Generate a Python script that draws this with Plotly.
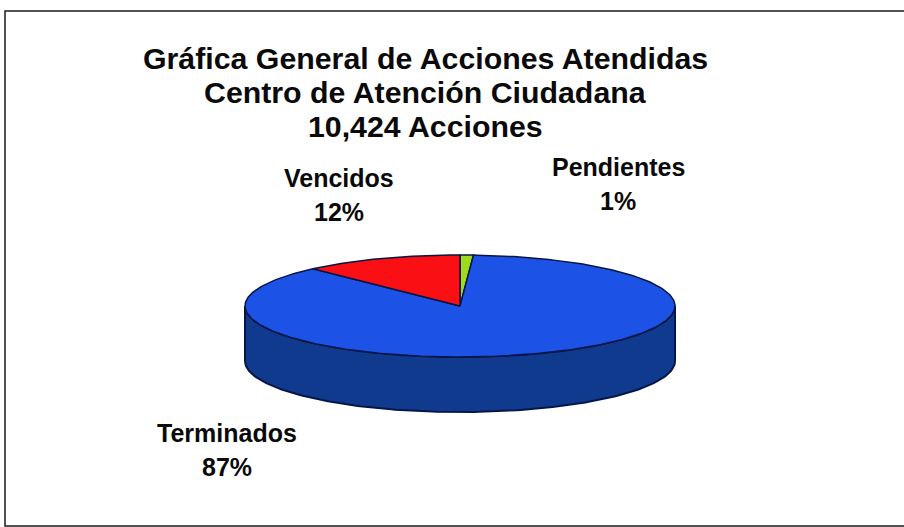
import numpy as np
import plotly.graph_objects as go

# Series
categorias = ["Pendientes", "Terminados", "Vencidos"]
porcentajes = [1, 87, 12]
colores_cara = ["#9CDB1E", "#1C52E6", "#FA0F14"]
colores_lado = ["#5C8A10", "#0F3A8E", "#900A0C"]

titulos = ["Gráfica General de Acciones Atendidas",
           "Centro de Atención Ciudadana",
           "10,424 Acciones"]

# Pie geometry, in page pixels
CX, CY, RX, RY, ALTO = 460, 306, 215, 51, 55
CONTORNO = "#071648"


def borde(t):
    """Point on the top rim for an angle measured clockwise from 12 o'clock."""
    return CX + RX * np.sin(t), CY - RY * np.cos(t)


fig = go.Figure()

# Wall of the cylinder: only the visible lower half, shaded per slice
inicio = 0.0
for pct, lado in zip(porcentajes, colores_lado):
    fin = inicio + pct / sum(porcentajes) * 2 * np.pi
    a, b = max(inicio, np.pi / 2), min(fin, 3 * np.pi / 2)
    if b > a:
        t = np.linspace(a, b, 160)
        x, y = borde(t)
        fig.add_trace(go.Scatter(
            x=np.r_[x, x[::-1], x[0]], y=np.r_[y, y[::-1] + ALTO, y[0]],
            mode="lines", fill="toself", fillcolor=lado,
            line=dict(color=CONTORNO, width=2), hoverinfo="skip"))
    inicio = fin

# Top face slices
inicio = 0.0
for cat, pct, cara in zip(categorias, porcentajes, colores_cara):
    fin = inicio + pct / sum(porcentajes) * 2 * np.pi
    t = np.linspace(inicio, fin, max(4, int(pct * 4)))
    x, y = borde(t)
    fig.add_trace(go.Scatter(
        x=np.r_[CX, x, CX], y=np.r_[CY, y, CY],
        mode="lines", fill="toself", fillcolor=cara, name=cat,
        line=dict(color=CONTORNO, width=1.5), hoverinfo="name"))
    inicio = fin

anotaciones = []
for texto, y in zip(titulos, [58, 92, 126]):
    anotaciones.append(dict(x=425, y=y, text=f"<b>{texto}</b>", font_size=30.3))

# Slice labels: name above percentage
posiciones = {"Vencidos": (339, 178), "Pendientes": (618, 167), "Terminados": (227, 433)}
for cat, pct in zip(categorias, porcentajes):
    px, py = posiciones[cat]
    anotaciones.append(dict(x=px, y=py, text=f"<b>{cat}</b>", font_size=25))
    anotaciones.append(dict(x=px, y=py + 34, text=f"<b>{pct}%</b>", font_size=25))

for a in anotaciones:
    a.update(xref="x", yref="y", showarrow=False, xanchor="center", yanchor="middle",
             font=dict(family="Liberation Sans", color="#0A0A0A", size=a.pop("font_size")))

# Chart frame: open on the right, where it runs off the page
marco = dict(type="path", path="M 904 11 L 5 11 L 5 526 L 904 526",
             xref="x", yref="y", line=dict(color="#1A1A1A", width=1.5))

fig.update_layout(
    width=904, height=527, margin=dict(l=0, r=0, t=0, b=0, pad=0),
    paper_bgcolor="white", plot_bgcolor="white", showlegend=False,
    xaxis=dict(range=[0, 904], visible=False, fixedrange=True),
    yaxis=dict(range=[527, 0], visible=False, fixedrange=True),
    annotations=anotaciones, shapes=[marco],
)

fig.write_html("out.html", config={"displayModeBar": False})
